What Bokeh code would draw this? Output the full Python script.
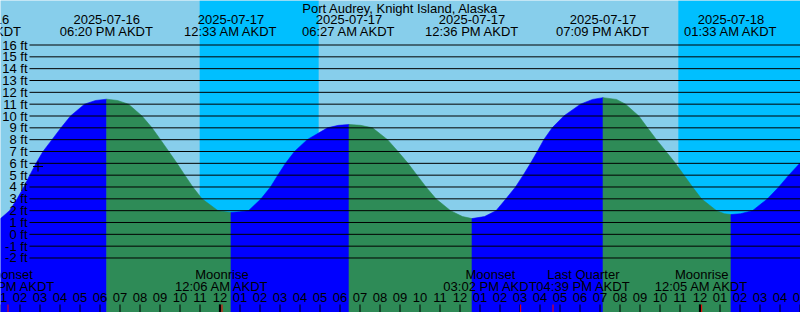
from datetime import datetime
from bokeh.plotting import figure
from bokeh.models import Range1d
from bokeh.core.properties import value
from bokeh.embed import file_html
from bokeh.resources import INLINE

# ---------------- data ----------------
station = "Port Audrey, Knight Island, Alaska"
tz = "AKDT"

tide_event_times = ["2025-07-16 11:48", "2025-07-16 18:20", "2025-07-17 00:33",
                    "2025-07-17 06:27", "2025-07-17 12:36", "2025-07-17 19:09",
                    "2025-07-18 01:33"]

# hours after 2025-07-16 00:00 AKDT, water level in feet
curve_hours = [13.025, 13.475, 13.86, 14.19, 14.49, 14.8, 15.15, 15.6, 16.05, 16.525,
               17.225, 17.775, 18.333, 18.875, 19.425, 20.1, 20.6, 21.025, 21.44, 21.85,
               22.24, 22.64, 23.1, 23.9, 24.275, 24.55, 24.975, 25.425, 26.05, 26.525,
               26.89, 27.275, 27.725, 28.36, 29.375, 29.925, 30.45, 31.025, 31.625, 32.375,
               32.9, 33.4, 33.85, 34.3, 34.8, 35.525, 36.125, 36.6, 37.225, 37.8,
               38.3, 38.775, 39.16, 39.525, 39.865, 40.19, 40.61, 41.19, 42.025, 42.625,
               43.15, 43.825, 44.275, 44.94, 45.375, 45.825, 46.3, 46.775, 47.2, 47.625,
               48.075, 48.825, 49.225, 49.55, 50.025, 50.625, 51.375, 51.94, 52.44, 52.99,
               53.025]
curve_feet = [1.33, 2.0, 3.0, 4.0, 5.0, 6.0, 7.0, 8.0, 9.0, 10.0,
              11.0, 11.31, 11.42, 11.31, 11.0, 10.0, 9.0, 8.0, 7.0, 6.0,
              5.0, 4.0, 3.0, 2.0, 1.9, 1.85, 1.9, 2.0, 3.0, 4.0,
              5.0, 6.0, 7.0, 8.0, 9.0, 9.21, 9.28, 9.21, 9.0, 8.0,
              7.0, 6.0, 5.0, 4.0, 3.0, 2.0, 1.5, 1.33, 1.5, 2.0,
              3.0, 4.0, 5.0, 6.0, 7.0, 8.0, 9.0, 10.0, 11.0, 11.4,
              11.55, 11.4, 11.0, 10.0, 9.0, 8.0, 7.0, 6.0, 5.0, 4.0,
              3.0, 2.0, 1.74, 1.67, 1.74, 2.0, 3.0, 4.0, 5.0, 6.0,
              6.06]

sunset_times = ["2025-07-16 22:59", "2025-07-17 22:55"]
sunrise_times = ["2025-07-17 04:56", "2025-07-18 05:01"]

moon_event_names = ["Moonset", "Moonrise", "Moonset", "Last Quarter", "Moonrise"]
moon_event_times = ["2025-07-16 13:24", "2025-07-17 00:06", "2025-07-17 15:02",
                    "2025-07-17 16:39", "2025-07-18 00:05"]

mark_time = "2025-07-16 14:54"
mark_feet = 5.73

feet_levels = list(range(-2, 17))

# ---------------- layout ----------------
W, H = 800, 312
PX_PER_HOUR = 20.0
PX_PER_FT = 11.833
ZERO_Y = 233.83           # pixel row of 0 ft
T0 = 13.025               # hours at left edge
T1 = T0 + W / PX_PER_HOUR

BASE = datetime(2025, 7, 16)


def hrs(s):
    return (datetime.strptime(s, "%Y-%m-%d %H:%M") - BASE).total_seconds() / 3600.0


def fy(py):               # pixel row -> feet
    return (ZERO_Y - py) / PX_PER_FT


def tx(px):               # pixel column -> hours
    return T0 + px / PX_PER_HOUR


DAY = "#87CEEB"
NIGHT = "#00BFFF"
FLOOD = "#0000FF"
EBB = "#2E8B57"
FONT = value("Liberation Sans")
FS = "13px"

YTOP, YBOT = fy(0), fy(H)

p = figure(width=W, height=H, x_range=Range1d(T0, T1), y_range=Range1d(YBOT, YTOP),
           output_backend="svg", toolbar_location=None, title=None, min_border=0)
p.axis.visible = False
p.grid.visible = False
p.outline_line_color = None
p.background_fill_color = DAY
p.border_fill_color = DAY

# night bands
p.quad(left=[hrs(s) for s in sunset_times], right=[hrs(s) for s in sunrise_times],
       bottom=YBOT, top=YTOP, fill_color=NIGHT, line_color=None)

# tide fill, coloured by rising / falling (split at each high / low water)
ev_h = [hrs(s) for s in tide_event_times]
TOL = 0.01
bounds = [T0] + [e for e in ev_h if T0 < e < T1] + [T1]
for b0, b1 in zip(bounds[:-1], bounds[1:]):
    seg = [(t, f) for t, f in zip(curve_hours, curve_feet) if b0 - TOL <= t <= b1 + TOL]
    ts = [a for a, _ in seg]
    fs = [b for _, b in seg]
    col = FLOOD if fs[-1] > fs[0] else EBB
    p.patch(ts + [ts[-1], ts[0]], fs + [YBOT, YBOT], fill_color=col,
            line_color=col, line_width=0.6)

# level lines and labels
p.segment(x0=tx(29), x1=T1, y0=feet_levels, y1=feet_levels, line_color="black", line_width=1)
p.text(x=[T0] * len(feet_levels), y=feet_levels, text=[f"{v} ft" for v in feet_levels],
       x_offset=27, text_align="right", text_baseline="middle",
       text_font=FONT, text_font_size=FS, text_color="black")

# mark
p.scatter(x=[hrs(mark_time)], y=[mark_feet], marker="cross", size=10,
          line_color="black", line_width=1)

# title
p.text(x=[(T0 + T1) / 2], y=[fy(7.5)], text=[station], text_align="center",
       text_baseline="middle", text_font=FONT, text_font_size=FS, text_color="black")

# tide event labels
dates = [datetime.strptime(s, "%Y-%m-%d %H:%M") for s in tide_event_times]
p.text(x=ev_h, y=[fy(19)] * len(ev_h), text=[d.strftime("%Y-%m-%d") for d in dates],
       text_align="center", text_baseline="middle", text_font=FONT, text_font_size=FS,
       text_color="black")
p.text(x=ev_h, y=[fy(31)] * len(ev_h), text=[d.strftime("%I:%M %p ") + tz for d in dates],
       text_align="center", text_baseline="middle", text_font=FONT, text_font_size=FS,
       text_color="black")

# hour ticks and labels
hours = list(range(13, 54))
p.segment(x0=hours, x1=hours, y0=fy(304), y1=YBOT, line_color="black", line_width=1)
mid = [h for h in hours if h % 24 == 0]
p.segment(x0=mid, x1=mid, y0=fy(304), y1=YBOT, line_color="black", line_width=2.2)
p.text(x=hours, y=[fy(297)] * len(hours), text=[f"{(h % 12) or 12:02d}" for h in hours],
       text_align="center", text_baseline="middle", text_font=FONT, text_font_size=FS,
       text_color="black")

# moon events
mh = [hrs(s) for s in moon_event_times]
p.segment(x0=mh, x1=mh, y0=fy(304), y1=YBOT, line_color="#FF0000", line_width=1)
half = 93 / 2 / PX_PER_HOUR
lab = mh[:]
for i in range(len(lab) - 1):
    d = lab[i + 1] - lab[i]
    if d < 2 * half:
        s = (2 * half - d) / 2
        lab[i] -= s
        lab[i + 1] += s
mdates = [datetime.strptime(s, "%Y-%m-%d %H:%M") for s in moon_event_times]
p.text(x=lab, y=[fy(273.5)] * len(lab), text=moon_event_names, text_align="center",
       text_baseline="middle", text_font=FONT, text_font_size=FS, text_color="black")
p.text(x=lab, y=[fy(285.5)] * len(lab), text=[d.strftime("%I:%M %p ") + tz for d in mdates],
       text_align="center", text_baseline="middle", text_font=FONT, text_font_size=FS,
       text_color="black")

open("out.html", "w").write(file_html(p, INLINE))
